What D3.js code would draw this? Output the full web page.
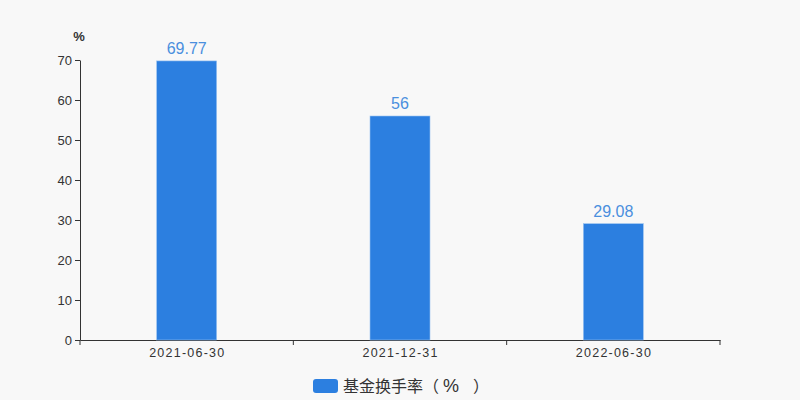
<!DOCTYPE html>
<html><head><meta charset="utf-8">
<script src="https://cdn.jsdelivr.net/npm/d3@7"></script>
<style>html,body{margin:0;padding:0;background:#f8f8f8;}</style>
</head><body>
<svg id="c" width="800" height="400"></svg>
<script>
const categories = ["2021-06-30", "2021-12-31", "2022-06-30"];
const values = [69.77, 56, 29.08];
const valueLabels = ["69.77", "56", "29.08"];
const yTicks = [0, 10, 20, 30, 40, 50, 60, 70];
const seriesName = "基金换手率";
const seriesUnitParts = ["（", "%", "）"];
const unit = "%";

const svg = d3.select("#c");
const font = "'Liberation Sans', Arial, 'Noto Sans CJK SC', sans-serif";
const cjk = "'Noto Sans CJK SC', sans-serif";
const m = {l: 80, r: 80, t: 60, b: 60};
const W = 800, H = 400;
const x = d3.scaleBand().domain(categories).range([m.l, W - m.r]);
const y = d3.scaleLinear().domain([0, 70]).range([H - m.b, m.t]);

svg.append("rect").attr("width", W).attr("height", H).attr("fill", "#f8f8f8");

// y axis
const ya = svg.append("g").attr("transform", `translate(${m.l},0)`)
  .call(d3.axisLeft(y).tickValues(yTicks).tickSize(5).tickPadding(3).tickSizeOuter(0));
ya.select(".domain").attr("stroke", "#333");
ya.selectAll(".tick line").attr("stroke", "#333");
ya.selectAll(".tick text").attr("fill", "#333").attr("font-size", 13).attr("font-family", font);

// x axis
const xa = svg.append("g").attr("transform", `translate(0,${H - m.b})`)
  .call(d3.axisBottom(x).tickSize(0).tickPadding(8));
xa.select(".domain").attr("stroke", "#333");
xa.selectAll(".tick text").attr("fill", "#333").attr("font-size", 12.5).attr("font-family", font)
  .attr("textLength", 75).attr("lengthAdjust", "spacing");
const bounds = categories.map(c => x(c)).concat([x(categories[categories.length - 1]) + x.bandwidth()]);
svg.append("g").selectAll("line").data(bounds).join("line")
  .attr("x1", d => d).attr("x2", d => d)
  .attr("y1", H - m.b).attr("y2", H - m.b + 5).attr("stroke", "#333");

// unit
svg.append("text").attr("x", m.l - 1).attr("y", y(70) - 19).attr("text-anchor", "middle")
  .attr("font-size", 13).attr("font-weight", "bold").attr("fill", "#333").attr("font-family", font).text(unit);

// bars
const bw = 60;
svg.append("g").selectAll("rect").data(values).join("rect")
  .attr("x", (d, i) => x(categories[i]) + x.bandwidth() / 2 - bw / 2)
  .attr("y", d => y(d)).attr("width", bw).attr("height", d => y(0) - y(d))
  .attr("fill", "#2c7fe0").attr("stroke", "#9cc3f0").attr("stroke-width", 0.6);

svg.append("g").selectAll("text").data(values).join("text")
  .attr("x", (d, i) => x(categories[i]) + x.bandwidth() / 2)
  .attr("y", d => y(d) - 7).attr("text-anchor", "middle")
  .attr("font-size", 16).attr("fill", "#4a8fde").attr("font-family", font)
  .text((d, i) => valueLabels[i]);

// legend
const lx = 313;
const lg = svg.append("g");
lg.append("rect").attr("x", lx).attr("y", 379).attr("width", 25).attr("height", 14).attr("rx", 3)
  .attr("fill", "#2c7fe0");
const lt = lg.append("text").attr("y", 392).attr("font-size", 16).attr("fill", "#333").attr("font-family", cjk);
lt.append("tspan").attr("x", lx + 30).text(seriesName);
lt.append("tspan").attr("x", lx + 110).text(seriesUnitParts[0]);
lt.append("tspan").attr("x", lx + 130).attr("font-family", font).attr("font-size", 18).text(seriesUnitParts[1]);
lt.append("tspan").attr("x", lx + 160).text(seriesUnitParts[2]);
</script>
</body></html>
